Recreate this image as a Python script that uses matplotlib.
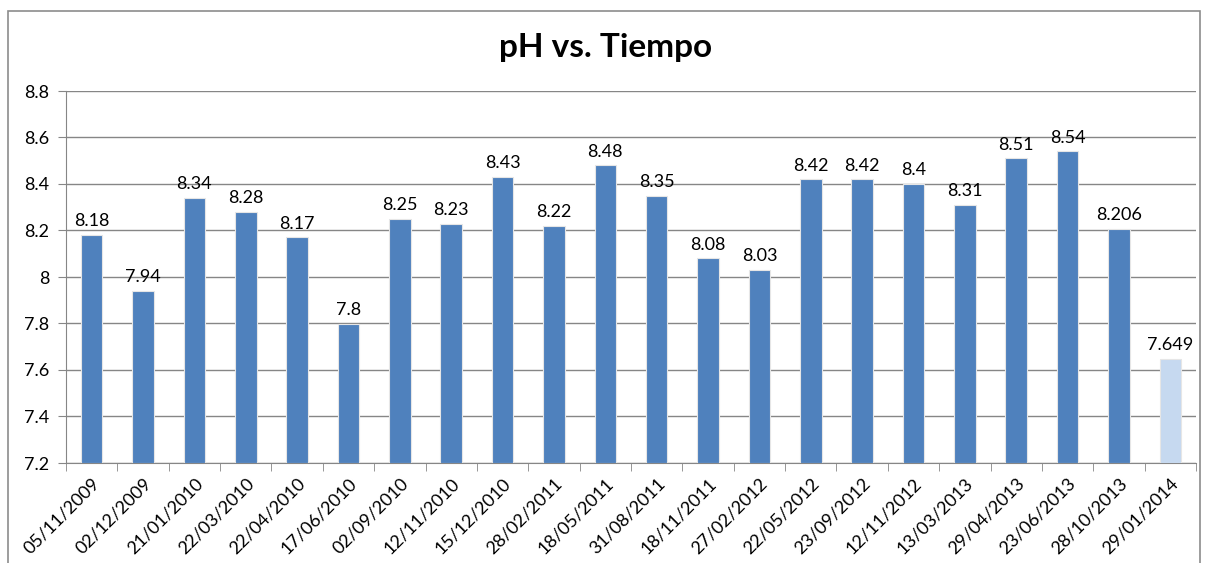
import matplotlib.pyplot as plt
import matplotlib.patches as mpatches
import numpy as np

fechas = ['05/11/2009', '02/12/2009', '21/01/2010', '22/03/2010', '22/04/2010',
          '17/06/2010', '02/09/2010', '12/11/2010', '15/12/2010', '28/02/2011',
          '18/05/2011', '31/08/2011', '18/11/2011', '27/02/2012', '22/05/2012',
          '23/09/2012', '12/11/2012', '13/03/2013', '29/04/2013', '23/06/2013',
          '28/10/2013', '29/01/2014']
ph = [8.18, 7.94, 8.34, 8.28, 8.17, 7.8, 8.25, 8.23, 8.43, 8.22, 8.48, 8.35,
      8.08, 8.03, 8.42, 8.42, 8.4, 8.31, 8.51, 8.54, 8.206, 7.649]
etiquetas = ['8.18', '7.94', '8.34', '8.28', '8.17', '7.8', '8.25', '8.23', '8.43',
             '8.22', '8.48', '8.35', '8.08', '8.03', '8.42', '8.42', '8.4', '8.31',
             '8.51', '8.54', '8.206', '7.649']

plt.rcParams['font.family'] = ['Lato', 'DejaVu Sans']

fig = plt.figure(figsize=(12.05, 5.63), dpi=100)
ax = fig.add_axes([66 / 1205, 1 - 463 / 563, (1196 - 66) / 1205, (463 - 91) / 563])

# chart border
fig.patches.append(mpatches.Rectangle((8 / 1205, -0.1), (1200 - 8) / 1205, 1.1 - 11 / 563,
                                      transform=fig.transFigure, fill=False,
                                      edgecolor='#8c8c8c', linewidth=1.2))

x = np.arange(len(fechas))
colores = ['#4f81bd'] * (len(fechas) - 1) + ['#c6d9f0']
base = 7.2
ax.bar(x, np.array(ph) - base, bottom=base, width=0.42, color=colores,
       edgecolor='#e6e6e6', linewidth=0.8, zorder=3)

for xi, v, t in zip(x, ph, etiquetas):
    ax.text(xi, v + 0.025, t, ha='center', va='bottom', fontsize=13, color='black')

ax.set_xlim(-0.5, len(fechas) - 0.5)
ax.set_ylim(7.2, 8.8)
ax.set_yticks(np.arange(7.2, 8.81, 0.2))
ax.set_yticklabels(['7.2', '7.4', '7.6', '7.8', '8', '8.2', '8.4', '8.6', '8.8'], fontsize=13)
ax.yaxis.grid(True, color='#868686', linewidth=1, zorder=0)
ax.set_axisbelow(True)

ax.set_xticks(x)
ax.set_xticklabels(fechas, rotation=45, ha='right', rotation_mode='anchor', fontsize=13)
ax.set_xticks(np.arange(-0.5, len(fechas), 1), minor=True)
ax.tick_params(axis='x', which='major', length=0, pad=9)
ax.tick_params(axis='x', which='minor', length=6, color='#868686', direction='out')
ax.tick_params(axis='y', length=6, color='#868686', direction='out', pad=6)

for s in ['top', 'right']:
    ax.spines[s].set_visible(False)
ax.spines['left'].set_color('#868686')
ax.spines['bottom'].set_color('#868686')

fig.text(606 / 1205, 1 - 48 / 563, 'pH vs. Tiempo', ha='center', va='center',
         fontsize=24, fontweight='bold')

fig.savefig('out.png', dpi=100)
